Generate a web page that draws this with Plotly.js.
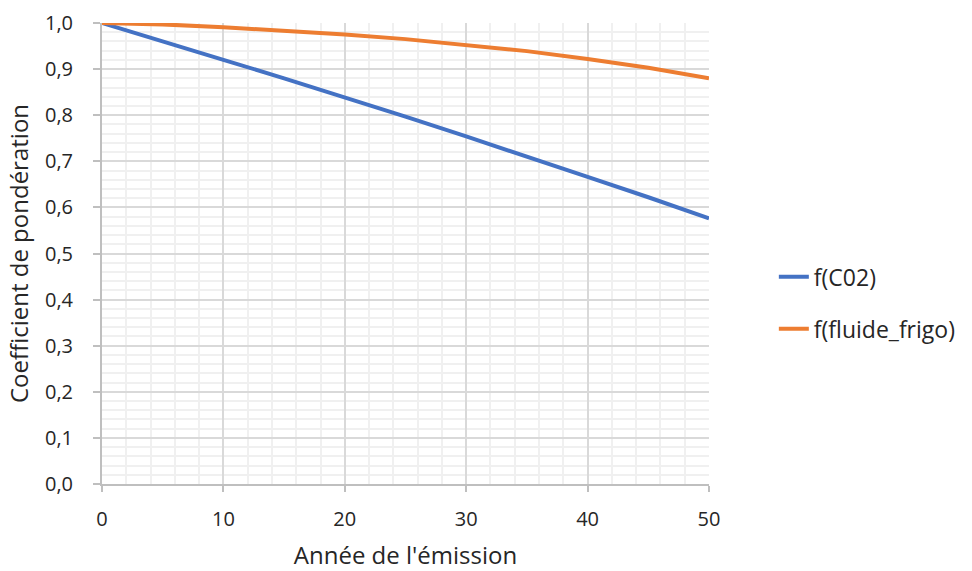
<!DOCTYPE html>
<html>
<head>
<meta charset="utf-8">
<script src="https://cdn.plot.ly/plotly-3.0.1.min.js"></script>
<style>html,body{margin:0;padding:0;background:#fff;}</style>
</head>
<body>
<div id="chart" style="width:972px;height:571px;"></div>
<script>
var years = [0, 5, 10, 15, 20, 25, 30, 35, 40, 45, 50];
var fCO2 = [1.000, 0.961, 0.920, 0.880, 0.839, 0.797, 0.754, 0.711, 0.666, 0.622, 0.576];
var fFluide = [1.000, 0.997, 0.991, 0.984, 0.975, 0.965, 0.953, 0.939, 0.922, 0.903, 0.880];
var seriesNames = ['f(C02)', 'f(fluide_frigo)'];
var xTitle = "Année de l'émission";
var yTitle = 'Coefficient de pondération';

var font = 'Open Sans, sans-serif';
var txt = '#262626';
var traces = [
  {x: years, y: fCO2, name: seriesNames[0], mode: 'lines', legendgroup: 'a',
   line: {color: '#4472C4', width: 4}},
  {x: years, y: fFluide, name: seriesNames[1], mode: 'lines', legendgroup: 'b',
   line: {color: '#ED7D31', width: 4}}
];
var layout = {
  width: 972, height: 571,
  margin: {l: 102, r: 262, t: 23, b: 87, pad: 0},
  paper_bgcolor: '#fff', plot_bgcolor: '#fff',
  separators: ', ',
  font: {family: font, size: 20, color: txt},
  showlegend: true,
  legend: {x: 1.105, y: 0.393, xanchor: 'left', yanchor: 'middle',
    font: {family: font, size: 23, color: txt},
    traceorder: 'grouped', tracegroupgap: 19, bgcolor: 'rgba(0,0,0,0)'},
  xaxis: {
    range: [0, 50], dtick: 10, tick0: 0,
    showgrid: true, gridcolor: '#d9d9d9', gridwidth: 2,
    minor: {dtick: 2, showgrid: true, gridcolor: '#f0f0f0', gridwidth: 2},
    showline: true, linecolor: '#bfbfbf', linewidth: 2,
    ticks: 'outside', ticklen: 6, tickcolor: '#bfbfbf', tickwidth: 2,
    ticklabelstandoff: 10,
    tickfont: {family: font, size: 20, color: txt},
    zeroline: false,
    title: {text: xTitle, font: {family: font, size: 24, color: txt}, standoff: 18}
  },
  yaxis: {
    range: [0, 1], dtick: 0.1, tick0: 0, tickformat: '.1f',
    showgrid: true, gridcolor: '#d9d9d9', gridwidth: 2,
    minor: {dtick: 0.02, showgrid: true, gridcolor: '#f0f0f0', gridwidth: 2},
    showline: true, linecolor: '#bfbfbf', linewidth: 2,
    ticks: 'outside', ticklen: 7, tickcolor: '#bfbfbf', tickwidth: 2,
    ticklabelstandoff: 16,
    tickfont: {family: font, size: 20, color: txt},
    zeroline: false,
    title: {text: yTitle, font: {family: font, size: 24, color: txt}, standoff: 10}
  }
};
Plotly.newPlot('chart', traces, layout, {displayModeBar: false, staticPlot: true});
</script>
</body>
</html>
